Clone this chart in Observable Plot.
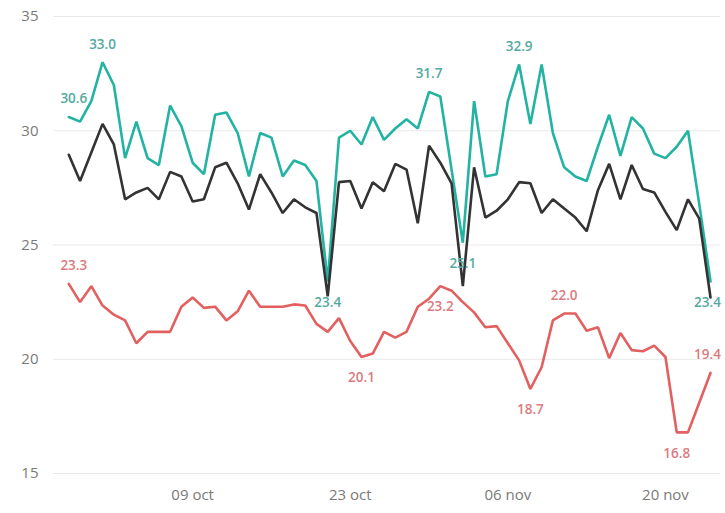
<!DOCTYPE html>
<html><head><meta charset="utf-8">
<script src="https://cdn.jsdelivr.net/npm/d3@7"></script>
<script src="https://cdn.jsdelivr.net/npm/@observablehq/plot@0.6"></script>
<style>body{margin:0;background:#fff;overflow:hidden}</style>
</head><body><div id="chart"></div>
<script>
// ---- data ----
const startDate = "2023-09-28";
const seriesNames = ["max", "mean", "min"];
const maxValues = [30.6,30.4,31.3,33.0,32.0,28.8,30.4,28.8,28.5,31.1,30.2,28.6,28.1,30.7,30.8,29.9,28.0,29.9,29.7,28.0,28.7,28.5,27.8,23.4,29.7,30.0,29.4,30.6,29.6,30.1,30.5,30.1,31.7,31.5,28.3,25.1,31.3,28.0,28.1,31.3,32.9,30.3,32.9,29.9,28.4,28.0,27.8,29.3,30.7,28.9,30.6,30.1,29.0,28.8,29.3,30.0,26.8,23.4];
const meanValues = [28.95,27.8,29.05,30.3,29.4,27.0,27.3,27.5,27.0,28.2,28.0,26.9,27.0,28.4,28.6,27.7,26.55,28.1,27.3,26.4,27.0,26.65,26.4,22.75,27.75,27.8,26.6,27.75,27.35,28.55,28.3,25.95,29.35,28.6,27.7,23.2,28.4,26.2,26.5,27.0,27.75,27.7,26.4,27.0,26.6,26.2,25.6,27.4,28.55,27.0,28.5,27.45,27.3,26.45,25.65,27.0,26.15,22.7];
const minValues = [23.3,22.5,23.2,22.35,21.95,21.7,20.7,21.2,21.2,21.2,22.3,22.7,22.25,22.3,21.7,22.1,23.0,22.3,22.3,22.3,22.4,22.35,21.55,21.2,21.8,20.8,20.1,20.25,21.2,20.95,21.2,22.3,22.65,23.2,23.0,22.5,22.05,21.4,21.45,20.7,19.95,18.7,19.65,21.7,22.0,22.0,21.25,21.4,20.05,21.15,20.4,20.35,20.6,20.1,16.8,16.8,18.1,19.4];
const xTickDates = ["2023-10-09","2023-10-23","2023-11-06","2023-11-20"];
const yTickValues = [15, 20, 25, 30, 35];
// indices of the labelled points
const maxLabelIdx = [0, 3, 23, 32, 35, 40, 57];
const minLabelIdx = [0, 26, 33, 41, 44, 54, 57];

// ---- build ----
const start = new Date(startDate);
const dates = maxValues.map((_, i) => d3.utcDay.offset(start, i));
const valuesBySeries = {max: maxValues, mean: meanValues, min: minValues};
const rows = seriesNames.flatMap(s => valuesBySeries[s].map((v, i) => ({date: dates[i], value: v, series: s})));

const lineColor = {max: "#22b3a3", mean: "#333333", min: "#e2605f"};
const labelColor = {max: "#55a9a1", min: "#db7b80"};
const below = {max: new Set([23, 35, 57]), min: new Set([26, 33, 41, 54])};

const labelMarks = [];
for (const [s, idxs] of [["max", maxLabelIdx], ["min", minLabelIdx]]) {
  for (const i of idxs) {
    const isBelow = below[s].has(i);
    const dx = i === 0 ? 5 : (i === maxValues.length - 1 ? -3 : 0);
    labelMarks.push(Plot.text([{date: dates[i], value: valuesBySeries[s][i]}], {
      x: "date", y: "value", text: d => d3.format(".1f")(d.value),
      dy: isBelow ? 21 : -18, dx, fill: labelColor[s], fontSize: 13.5, fontWeight: 600
    }));
  }
}

const chart = Plot.plot({
  width: 725, height: 513,
  marginTop: 16, marginBottom: 40, marginLeft: 53, marginRight: 5,
  style: {fontFamily: "'Open Sans', sans-serif", fontSize: "15px", color: "#7a7a7a", background: "#fff"},
  x: {type: "utc", range: [68.3, 710], ticks: xTickDates.map(d => new Date(d)),
      tickFormat: d => d3.utcFormat("%d %b")(d).toLowerCase(), tickSize: 0, tickPadding: 16, label: null},
  y: {domain: [15, 35], ticks: yTickValues, tickSize: 0, tickPadding: 15, label: null},
  color: {domain: seriesNames, range: seriesNames.map(s => lineColor[s])},
  marks: [
    Plot.ruleY(yTickValues, {stroke: "#e9e9e9", strokeWidth: 1}),
    Plot.line(rows, {x: "date", y: "value", z: "series", stroke: "series", strokeWidth: 2.6, strokeLinejoin: "miter"}),
    ...labelMarks
  ]
});
document.getElementById("chart").appendChild(chart);
</script>
</body></html>
